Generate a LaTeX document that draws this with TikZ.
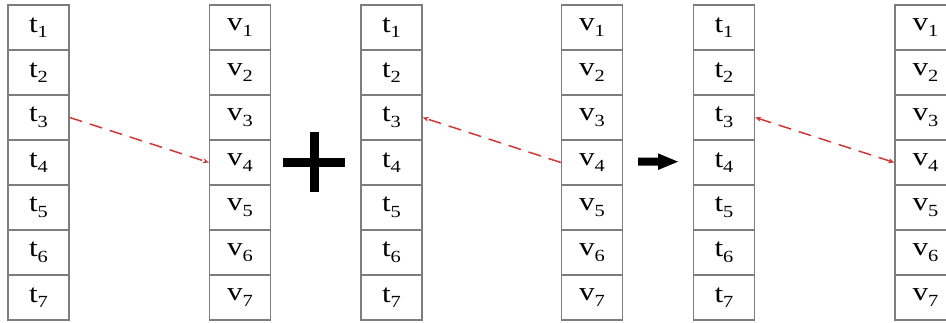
\documentclass[tikz,border=0pt]{standalone}
\usepackage{fontspec}
\setmainfont{Liberation Serif}
\usetikzlibrary{arrows.meta}
\definecolor{cellgray}{RGB}{125,125,125}
\definecolor{linkred}{RGB}{210,55,55}
\tikzset{
  cell/.style={draw=cellgray, line width=1.4pt, minimum width=61pt, minimum height=45pt, inner sep=0pt},
  link/.style={draw=linkred, line width=1.5pt, dash pattern=on 13pt off 8pt},
  redtip/.tip={Stealth[length=6pt,width=5pt,fill=linkred]},
  bigsym/.style={line width=9pt, black}
}
\newcommand{\cellLabel}[2]{\scalebox{1.2}[1]{\fontsize{26}{26}\selectfont #1\raisebox{-5.5pt}{\fontsize{17}{17}\selectfont #2}}}
\begin{document}
\begin{tikzpicture}[x=1pt,y=-1pt]
\useasboundingbox (0,0) rectangle (946,322);
\foreach \col/\x/\ch in {a/38.5/t, b/240/v, c/391.5/t, d/592/v, e/724/t, f/925.5/v}{
  \foreach \i in {1,...,7}{
    \node[cell] (\col\i) at (\x, {5+45*(\i-0.5)}) {\cellLabel{\ch}{\i}};
  }
}
% connectors
\draw[link, -redtip] (a3.east) -- (b4.west);
\draw[link, -redtip] (d4.west) -- (c3.east);
\draw[link, redtip-redtip] (e3.east) -- (f4.west);
% plus sign
\draw[bigsym] (283,162) -- (345,162);
\draw[bigsym] (314,132) -- (314,192);
% block arrow
\fill[black] (638,157.7) -- (658,157.7) -- (658,153.3) -- (678,161.7) -- (658,170) -- (658,165.7) -- (638,165.7) -- cycle;
\end{tikzpicture}
\end{document}
